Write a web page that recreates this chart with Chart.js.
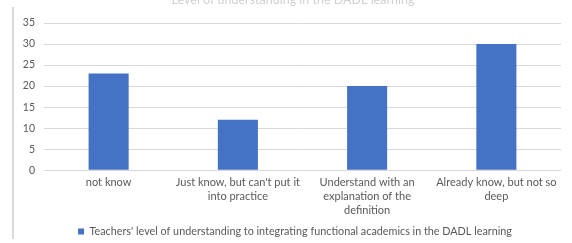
<!DOCTYPE html>
<html>
<head>
<meta charset="utf-8">
<script src="https://cdn.jsdelivr.net/npm/chart.js@4/dist/chart.umd.min.js"></script>
<style>
html,body{margin:0;padding:0;background:#fff;}
#wrap{width:572px;height:243px;position:relative;}
</style>
</head>
<body>
<div id="wrap"><canvas id="c" width="572" height="243"></canvas></div>
<script>
const categories = [
  ["not know"],
  ["Just know, but can't put it", "into practice"],
  ["Understand with an", "explanation of the", "definition"],
  ["Already know, but not so", "deep"]
];
const seriesName = "Teachers' level of understanding to integrating functional academics in the DADL learning";
const values = [23, 12, 20, 30];
const yTicks = [0, 5, 10, 15, 20, 25, 30, 35];
const titleText = "Level of understanding in the DADL learning";

const FONT = "Lato, 'Open Sans', sans-serif";
const TXT = "#595959";

const decor = {
  id: 'decor',
  beforeDraw(chart) {
    const ctx = chart.ctx;
    ctx.save();
    ctx.strokeStyle = "#d9d9d9";
    ctx.lineWidth = 2;
    ctx.beginPath();
    ctx.moveTo(13, 7);
    ctx.lineTo(13, 239);
    ctx.stroke();
    ctx.fillStyle = "#d0d0d0";
    ctx.font = "12.5px " + FONT;
    ctx.textAlign = "center";
    ctx.textBaseline = "alphabetic";
    ctx.fillText(titleText, 293, 4);
    ctx.restore();
  }
};

new Chart(document.getElementById('c'), {
  type: 'bar',
  data: {
    labels: categories,
    datasets: [{
      label: seriesName,
      data: values,
      backgroundColor: "#4472C4",
      borderWidth: 0,
      barPercentage: 0.31,
      categoryPercentage: 1.0
    }]
  },
  options: {
    responsive: false,
    animation: false,
    devicePixelRatio: 1,
    layout: { padding: { left: 20, right: 2, top: 23, bottom: -4 } },
    plugins: {
      title: { display: false },
      tooltip: { enabled: false },
      legend: {
        position: 'bottom',
        labels: {
          boxWidth: 6, boxHeight: 6, padding: 0,
          color: TXT,
          font: { family: FONT, size: 10.8 }
        }
      }
    },
    scales: {
      x: {
        grid: { display: false, drawTicks: false },
        border: { display: false },
        ticks: {
          color: TXT, padding: 5, maxRotation: 0, autoSkip: false,
          font: { family: FONT, size: 11, lineHeight: '14px' }
        },
        afterFit(s) { s.height = 56; }
      },
      y: {
        min: 0, max: 35,
        afterBuildTicks(s) { s.ticks = yTicks.map(v => ({ value: v })); },
        grid: { color: "#d9d9d9", lineWidth: 1, drawTicks: false },
        border: { display: false },
        ticks: {
          color: TXT, padding: 9,
          font: { family: FONT, size: 10.5 }
        },
        afterFit(s) { s.width = 24; }
      },
      y2: {
        position: 'right',
        display: true,
        min: 0, max: 35,
        grid: { display: false, drawTicks: false },
        border: { display: false },
        ticks: { display: false },
        afterFit(s) { s.width = 9; }
      }
    }
  },
  plugins: [decor]
});
</script>
</body>
</html>
